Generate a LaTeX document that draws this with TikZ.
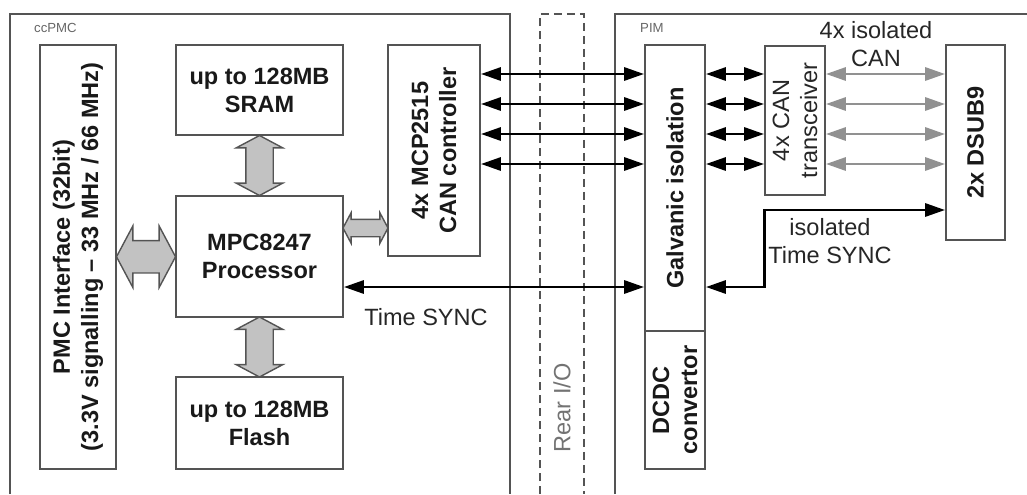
\documentclass[tikz,border=0pt]{standalone}
\usepackage{fontspec}
\setmainfont{Liberation Sans}
\usetikzlibrary{arrows.meta,shapes.arrows,fit,calc}
\definecolor{edge}{gray}{0.33}
\definecolor{pale}{gray}{0.57}
\definecolor{blockfill}{gray}{0.76}

\begin{document}
\begin{tikzpicture}[x=0.02cm, y=-0.02cm,
  box/.style={draw=edge, line width=1pt, inner sep=0pt},
  lbl/.style={font=\fontsize{13.4}{16}\selectfont\bfseries, align=center, text=black!90},
  plain/.style={font=\fontsize{13.4}{16}\selectfont, align=center, text=black!85},
  tag/.style={font=\fontsize{7.5}{9}\selectfont, text=black!60, anchor=west},
  frame/.style={draw=edge, line width=1pt},
  sig/.style={line width=1.7pt, {Triangle[length=0.4cm,width=0.26cm]}-{Triangle[length=0.4cm,width=0.26cm]}},
  blk/.style={double arrow, draw=edge, fill=blockfill, line width=0.8pt, inner xsep=0pt, double arrow tip angle=124}]

\useasboundingbox (0,0) rectangle (1027,494);

% frames
\draw[frame] (10,494) |- (510,14) -- (510,494);
\draw[frame] (615,494) |- (1027,14);
\draw[frame, dash pattern=on 0.16cm off 0.1cm] (540,494) |- (584,14) -- (584,494);
\node[tag] at (28,28) {ccPMC};
\node[tag] at (634,28) {PIM};
\node[plain, rotate=90, text=black!55] at (562,408) {Rear I/O};

% ccPMC blocks
\node[box, fit={(40,45) (116,469)}] (pmc) {};
\node[lbl, rotate=90] at (pmc) {PMC Interface (32bit)\\(3.3V signalling -- 33 MHz / 66 MHz)};
\node[box, fit={(176,45) (343,135)}] (sram) {};
\node[lbl] at (sram) {up to 128MB\\SRAM};
\node[box, fit={(176,196) (343,317)}] (cpu) {};
\node[lbl] at (cpu) {MPC8247\\Processor};
\node[box, fit={(176,377) (343,469)}] (flash) {};
\node[lbl] at (flash) {up to 128MB\\Flash};
\node[box, fit={(388,45) (480,256)}] (can) {};
\node[lbl, rotate=90] at (can) {4x MCP2515\\CAN controller};

% PIM blocks
\node[box, fit={(645,45) (705,331)}] (galv) {};
\node[lbl, rotate=90] at (galv) {Galvanic isolation};
\node[box, fit={(645,331) (705,469)}] (dcdc) {};
\node[lbl, rotate=90] at (dcdc) {DCDC\\convertor};
\node[box, fit={(765,46) (825,195)}] (xcvr) {};
\node[plain, rotate=90] at (xcvr) {4x CAN\\transceiver};
\node[box, fit={(946,45) (1005,240)}] (dsub) {};
\node[lbl, rotate=90] at (dsub) {2x DSUB9};

% buses
\node[blk, inner ysep=0.31cm, minimum height=1.18cm, minimum width=1.2cm, double arrow head extend=0.29cm] at ($(pmc.east)!0.5!(cpu.west)$) {};
\node[blk, rotate=90, inner ysep=0.26cm, minimum height=1.2cm, minimum width=0.9cm, double arrow head extend=0.19cm] at ($(sram.south)!0.5!(cpu.north)$) {};
\node[blk, rotate=90, inner ysep=0.26cm, minimum height=1.2cm, minimum width=0.9cm, double arrow head extend=0.19cm] at ($(cpu.south)!0.5!(flash.north)$) {};
\node[blk, inner ysep=0.16cm, minimum height=0.9cm, minimum width=0.58cm, double arrow head extend=0.13cm] at (365.5,228) {};

% CAN lines
\foreach \y in {74,104,134,164}
   {
	\coordinate (r) at (0,\y);
	\draw[sig] (can.east |- r) -- (galv.west |- r);
	\draw[sig] (galv.east |- r) -- (xcvr.west |- r);
	\draw[sig, pale] (xcvr.east |- r) -- (dsub.west |- r);
   };
\node[plain] at (876,44) {4x isolated\\CAN};

% time sync
\coordinate (ts) at (0,287);
\coordinate (its) at (0,210);
\draw[sig] (cpu.east |- ts) -- (galv.west |- ts);
\draw[sig] (galv.east |- ts) -| (xcvr.west |- its) -- (dsub.west |- its);
\node[plain] at (426,317) {Time SYNC};
\node[plain] at (830,241) {isolated\\Time SYNC};
\end{tikzpicture}
\end{document}
